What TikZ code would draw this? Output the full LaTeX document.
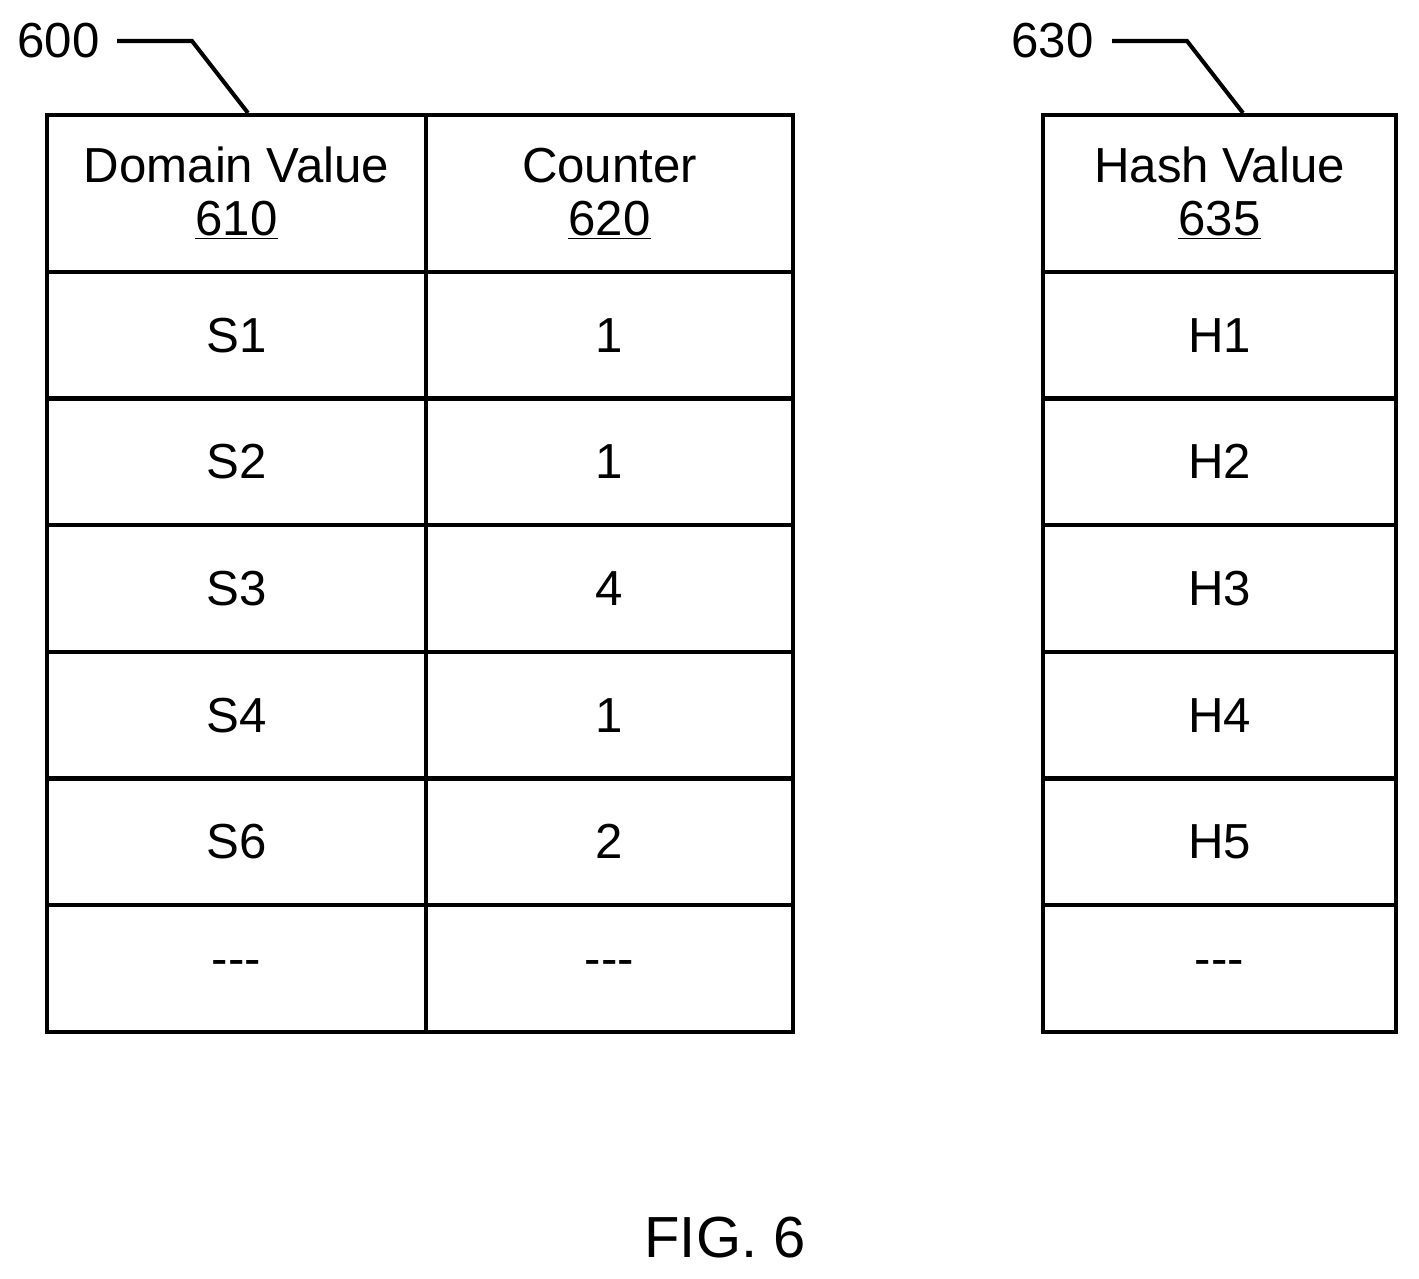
\documentclass[tikz,border=0pt]{standalone}
\usepackage{fontspec}
\setmainfont{Liberation Sans}
\usetikzlibrary{positioning}
\tikzset{
     cell/.style={draw, line width=2.3pt, rectangle, anchor=north west, inner sep=0pt},
     lead/.style={line width=2.3pt},
     ref/.style={font=\fontsize{28}{34}\selectfont, inner sep=0pt},
}
\def\ux{0.02cm}
\def\uy{0.02cm}
\def\gap{{-}{-}{-}}
\begin{document}
\begin{tikzpicture}[x=\ux, y=-\uy, font=\fontsize{28}{34}\selectfont]
		\useasboundingbox (0,0) rectangle (1419,1278);

		%% header row
		\node[cell, minimum width=379*\ux, minimum height=157*\uy, align=center] (h1) at (45,113) {Domain Value\\[-4pt]\underline{610}};
		\node[cell, minimum width=367*\ux, minimum height=157*\uy, align=center] (h2) at (424,113) {Counter\\[-4pt]\underline{620}};
		\node[cell, minimum width=353*\ux, minimum height=157*\uy, align=center] (h3) at (1041,113) {Hash Value\\[-4pt]\underline{635}};

		%% body rows
		\foreach \y/\a/\b/\c [count=\i] in {270/S1/1/H1, 396/S2/1/H2, 523/S3/4/H3, 650/S4/1/H4, 776/S6/2/H5, 903/\gap/\gap/\gap}{
			\node[cell, minimum width=379*\ux, minimum height=126.7*\uy] (a\i) at (45,\y) {\a};
			\node[cell, minimum width=367*\ux, minimum height=126.7*\uy] (b\i) at (424,\y) {\b};
			\node[cell, minimum width=353*\ux, minimum height=126.7*\uy] (c\i) at (1041,\y) {\c};
		}

		%% reference labels
		\node[ref, anchor=east] (l600) at (100,41) {600};
		\node[ref, anchor=east] (l630) at (1094,41) {630};
		\coordinate (k600) at (192,41);
		\coordinate (k630) at (1187,41);
		\coordinate (e600) at (248,113);
		\coordinate (e630) at (1243,113);
		\draw[lead] ([xshift=17*\ux]l600.east) -- (k600) -- (e600);
		\draw[lead] ([xshift=18*\ux]l630.east) -- (k630) -- (e630);

		\node[font=\fontsize{33}{40}\selectfont] (fig) at (725,1238) {FIG. 6};
\end{tikzpicture}
\end{document}
